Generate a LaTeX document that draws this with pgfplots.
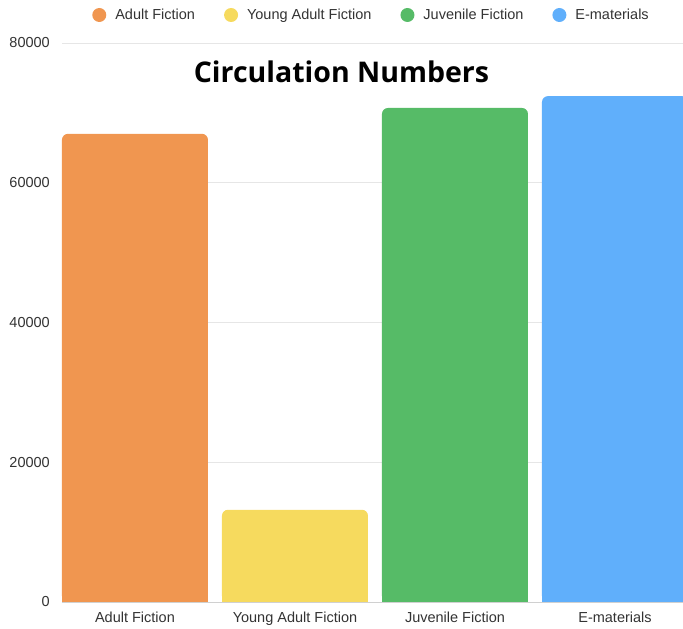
\documentclass[border=0pt]{standalone}
\usepackage{fontspec}
\setmainfont{Liberation Sans}
\newfontfamily\titlefont{Open Sans}
\usepackage{pgfplots}
\pgfplotsset{compat=1.18}
\definecolor{cA}{HTML}{F09650}
\definecolor{cB}{HTML}{F6DA5E}
\definecolor{cC}{HTML}{56BB67}
\definecolor{cD}{HTML}{60AFFB}
\definecolor{gridc}{HTML}{E6E6E6}
\definecolor{basec}{HTML}{D0D0D0}
\pgfplotsset{
  mybar/.style={ybar, bar width=0.9125, bar shift=0pt, draw=none, fill=#1,
    legend image code/.code={\fill[fill=#1] (7pt,0pt) circle (7pt);}},
  mysq/.style={ybar, bar width=0.9125, bar shift=0pt, draw=none, fill=#1, forget plot,
    y filter/.expression={y/2}},
}
\begin{document}
\begin{tikzpicture}
\begin{axis}[
  scale only axis, width=621pt, height=559pt,
  xmin=-0.456, xmax=3.425, ymin=0, ymax=80000,
  ytick={0,20000,40000,60000,80000},
  scaled y ticks=false,
  xtick={0,1,2,3},
  xticklabels={Adult Fiction,Young Adult Fiction,Juvenile Fiction,E-materials},
  ymajorgrids, grid style={draw=gridc, line width=0.8pt},
  axis x line*=bottom, axis y line*=left,
  x axis line style={draw=basec, line width=0.8pt, -},
  y axis line style={draw=none},
  major tick length=0pt,
  tick label style={font=\fontsize{14.5}{16}\selectfont, text=black!80},
  yticklabel style={inner sep=0pt, xshift=-12pt},
  xticklabel style={inner sep=0pt, anchor=base, yshift=-21pt},
  /pgf/number format/1000 sep={},
  /pgf/number format/assume math mode=true,
  every axis title shift=0pt,
  title={Circulation Numbers},
  title style={at={(0.45,0.93)}, anchor=base, inner sep=0pt,
    font=\titlefont\bfseries\fontsize{28.5}{32}\selectfont},
  legend columns=4,
  legend style={at={(0.4968,1)}, anchor=center, yshift=28pt, draw=none, fill=none,
    font=\fontsize{14.5}{16}\selectfont, text=black!80,
    nodes={inner sep=0pt},
    /tikz/every odd column/.append style={column sep=9pt},
    /tikz/every even column/.append style={column sep=29pt}},
  legend cell align=left,
]
\addplot[mybar=cA, rounded corners=6pt] coordinates {(0,67000)};
\addplot[mybar=cB, rounded corners=6pt] coordinates {(1,13200)};
\addplot[mybar=cC, rounded corners=6pt] coordinates {(2,70700)};
\addplot[mybar=cD, rounded corners=6pt] coordinates {(3,72400)};
\addplot[mysq=cA] coordinates {(0,67000)};
\addplot[mysq=cB] coordinates {(1,13200)};
\addplot[mysq=cC] coordinates {(2,70700)};
\addplot[mysq=cD] coordinates {(3,72400)};
\legend{Adult Fiction,Young Adult Fiction,Juvenile Fiction,E-materials}
\end{axis}
\pgfresetboundingbox
\path (current axis.south west) ++(-62pt,-27pt) rectangle ++(683pt,629pt);
\end{tikzpicture}
\end{document}
